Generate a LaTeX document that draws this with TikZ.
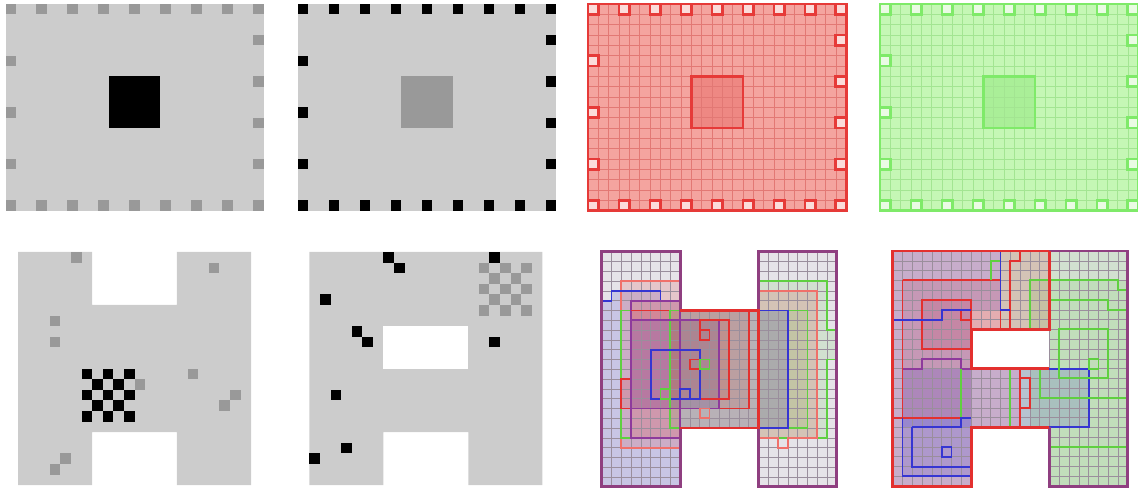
\documentclass[tikz,border=0pt]{standalone}
\usepackage{tikz}
\definecolor{lgray}{HTML}{CCCCCC}
\definecolor{mgray}{HTML}{999999}
\definecolor{redfill}{HTML}{F4A49F}
\definecolor{redgrid}{HTML}{E27874}
\definecolor{redline}{HTML}{E63A38}
\definecolor{redmark}{HTML}{FBDCDA}
\definecolor{redcore}{HTML}{EE8883}
\definecolor{grnfill}{HTML}{C5F7B5}
\definecolor{grngrid}{HTML}{A3E592}
\definecolor{grnline}{HTML}{7FEA69}
\definecolor{grnmark}{HTML}{EAFBE4}
\definecolor{grncore}{HTML}{AAEF98}
\definecolor{hbase}{HTML}{E6E3E8}
\definecolor{hgrid}{HTML}{9A8E9C}
\definecolor{hedge}{HTML}{8F3F80}
\definecolor{rc}{HTML}{E3302F}
\definecolor{gc}{HTML}{5FD040}
\definecolor{bc}{HTML}{3535D2}
\definecolor{sal}{HTML}{F0706A}
\definecolor{pc}{HTML}{8E3A9C}
\tikzset{
  cellA/.style={x=0.2066cm,y=-0.2066cm},
  cellB/.style={x=0.212cm,y=-0.212cm},
  cellC/.style={x=0.196cm,y=-0.196cm},
  rf/.style={fill=rc,fill opacity=0.16},
  gf/.style={fill=gc,fill opacity=0.14},
  bf/.style={fill=bc,fill opacity=0.17},
  rl/.style={draw=rc,line width=1.1pt},
  gl/.style={draw=gc,line width=1.1pt},
  bl/.style={draw=bc,line width=1.1pt},
  sl/.style={draw=sal,line width=1.1pt},
  pl/.style={draw=pc,line width=1.1pt},
  gridlines/.style={draw=hgrid,line width=0.3pt},
  edge/.style={draw=hedge,line width=1.6pt}
}
\newcommand{\Hshape}{(0,0)--(8,0)--(8,6)--(16,6)--(16,0)--(24,0)--(24,24)--(16,24)--(16,18)--(8,18)--(8,24)--(0,24)--cycle}
\newcommand{\Sshape}{(0,0)--(24,0)--(24,24)--(16,24)--(16,18)--(8,18)--(8,24)--(0,24)--cycle}
\begin{document}
\begin{tikzpicture}[x=0.02cm,y=-0.02cm]
\useasboundingbox (0,0) rectangle (1138,489);

% top row: layouts
\begin{scope}[shift={(5.5,4)}]
 \begin{scope}[cellA]
  \fill[lgray] (0,0) rectangle (25,20);
  \foreach \c in {0,3,...,24} {
    \fill[mgray] (\c,0) rectangle ++(1,1);
    \fill[mgray] (\c,19) rectangle ++(1,1);
  }
  \foreach \r in {5,10,15} \fill[mgray] (0,\r) rectangle ++(1,1);
  \foreach \r in {3,7,11,15} \fill[mgray] (24,\r) rectangle ++(1,1);
  \fill[black] (10,7) rectangle (15,12);
 \end{scope}
\end{scope}

\begin{scope}[shift={(297.7,4)}]
 \begin{scope}[cellA]
  \fill[lgray] (0,0) rectangle (25,20);
  \foreach \c in {0,3,...,24} {
    \fill[black] (\c,0) rectangle ++(1,1);
    \fill[black] (\c,19) rectangle ++(1,1);
  }
  \foreach \r in {5,10,15} \fill[black] (0,\r) rectangle ++(1,1);
  \foreach \r in {3,7,11,15} \fill[black] (24,\r) rectangle ++(1,1);
  \fill[mgray] (10,7) rectangle (15,12);
 \end{scope}
\end{scope}

\begin{scope}[shift={(588,4)}]
 \begin{scope}[cellA]
  \fill[redfill] (0,0) rectangle (25,20);
  \fill[redcore] (10,7) rectangle (15,12);
  \foreach \i in {1,...,24} \draw[redgrid,line width=0.3pt] (\i,0)--(\i,20);
  \foreach \j in {1,...,19} \draw[redgrid,line width=0.3pt] (0,\j)--(25,\j);
  \draw[redline,line width=1.6pt] (0,0) rectangle (25,20);
  \foreach \c in {0,3,...,24} {
    \filldraw[fill=redmark,draw=redline,line width=1.6pt] (\c,0) rectangle ++(1,1);
    \filldraw[fill=redmark,draw=redline,line width=1.6pt] (\c,19) rectangle ++(1,1);
  }
  \foreach \r in {5,10,15} \filldraw[fill=redmark,draw=redline,line width=1.6pt] (0,\r) rectangle ++(1,1);
  \foreach \r in {3,7,11,15} \filldraw[fill=redmark,draw=redline,line width=1.6pt] (24,\r) rectangle ++(1,1);
  \draw[redline,line width=1.6pt] (10,7) rectangle (15,12);
 \end{scope}
\end{scope}

\begin{scope}[shift={(880,4)}]
 \begin{scope}[cellA]
  \fill[grnfill] (0,0) rectangle (25,20);
  \fill[grncore] (10,7) rectangle (15,12);
  \foreach \i in {1,...,24} \draw[grngrid,line width=0.3pt] (\i,0)--(\i,20);
  \foreach \j in {1,...,19} \draw[grngrid,line width=0.3pt] (0,\j)--(25,\j);
  \draw[grnline,line width=1.6pt] (0,0) rectangle (25,20);
  \foreach \c in {0,3,...,24} {
    \filldraw[fill=grnmark,draw=grnline,line width=1.6pt] (\c,0) rectangle ++(1,1);
    \filldraw[fill=grnmark,draw=grnline,line width=1.6pt] (\c,19) rectangle ++(1,1);
  }
  \foreach \r in {5,10,15} \filldraw[fill=grnmark,draw=grnline,line width=1.6pt] (0,\r) rectangle ++(1,1);
  \foreach \r in {3,7,11,15} \filldraw[fill=grnmark,draw=grnline,line width=1.6pt] (24,\r) rectangle ++(1,1);
  \draw[grnline,line width=1.6pt] (10,7) rectangle (15,12);
 \end{scope}
\end{scope}

% bottom row: H layouts
\begin{scope}[shift={(18,252)}]
 \begin{scope}[cellB]
  \fill[lgray] (0,0)--(7,0)--(7,5)--(15,5)--(15,0)--(22,0)--(22,22)--(15,22)--(15,17)--(7,17)--(7,22)--(0,22)--cycle;
  \foreach \c/\r in {5/0,18/1,3/6,3/8,11/12,16/11,20/13,19/14,4/19,3/20}
    \fill[mgray] (\c,\r) rectangle ++(1,1);
  \foreach \c in {0,...,4} \foreach \r in {0,...,4} {
    \pgfmathtruncatemacro{\parity}{mod(\c+\r,2)}
    \ifnum\parity=0 \fill[black] (6+\c,11+\r) rectangle ++(1,1); \fi
  }
 \end{scope}
\end{scope}

\begin{scope}[shift={(309.3,252)}]
 \begin{scope}[cellB]
  \fill[lgray] (0,0)--(22,0)--(22,22)--(15,22)--(15,17)--(7,17)--(7,22)--(0,22)--cycle;
  \fill[white] (7,7) rectangle (15,11);
  \foreach \c/\r in {7/0,8/1,17/0,1/4,4/7,5/8,17/8,2/13,3/18,0/19}
    \fill[black] (\c,\r) rectangle ++(1,1);
  \foreach \c in {0,...,4} \foreach \r in {0,...,4} {
    \pgfmathtruncatemacro{\parity}{mod(\c+\r,2)}
    \ifnum\parity=0 \fill[mgray] (16+\c,1+\r) rectangle ++(1,1); \fi
  }
 \end{scope}
\end{scope}

\begin{scope}[shift={(601.7,251.7)}]
 \begin{scope}[cellC]
  \fill[hbase] \Hshape;
  \fill[bf] (0,5)--(1,5)--(1,4)--(6,4)--(6,5)--(8,5)--(8,24)--(0,24)--cycle;
  \fill[rf] (2,3) rectangle (8,20);
  \fill[rf] (3,5) rectangle (8,19);
  \fill[rf] (8,6) rectangle (16,18);
  \fill[bf] (8,6) rectangle (16,18);
  \fill[rf] (3,6)--(15,6)--(15,16)--(2,16)--(2,13)--(3,13)--cycle;
  \fill[bf] (3,7) rectangle (12,16);
  \fill[rf] (7,7) rectangle (13,15);
  \fill[gf] (7,6) rectangle (16,18);
  \fill[gf] (16,3)--(23,3)--(23,8)--(24,8)--(24,11)--(23,11)--(23,19)--(16,19)--cycle;
  \fill[rf] (16,4) rectangle (22,19);
  \fill[gf] (16,6) rectangle (21,18);
  \fill[bf] (16,6) rectangle (19,18);
  \begin{scope}
   \clip \Hshape;
   \foreach \i in {1,...,23} {
     \draw[gridlines] (\i,0)--(\i,24);
     \draw[gridlines] (0,\i)--(24,\i);
   }
  \end{scope}
  \draw[sl] (2,3) rectangle (8,20);
  \draw[gl] (2,6) rectangle (8,19);
  \draw[bl] (0,5)--(1,5)--(1,4)--(6,4)--(6,5);
  \draw[pl] (6,5)--(8,5);
  \draw[pl] (3,5) rectangle (8,19);
  \draw[rl] (3,6)--(15,6)--(15,16)--(2,16)--(2,13)--(3,13);
  \draw[gl] (7,6) rectangle (21,18);
  \draw[pl] (3,7) rectangle (12,16);
  \draw[rl] (7,15)--(13,15)--(13,7)--(10,7)--(10,9)--(11,9)--(11,8)--(10,8);
  \draw[bl] (5,10) rectangle (10,15);
  \draw[bl] (8,14) rectangle (9,15);
  \draw[gl] (6,14) rectangle (7,15);
  \draw[rl] (9,11) rectangle (10,12);
  \draw[gl] (10,11) rectangle (11,12);
  \draw[sl] (10,16) rectangle (11,17);
  \draw[gl] (16,3)--(23,3)--(23,8)--(24,8)--(24,11)--(23,11)--(23,19)--(16,19);
  \draw[sl] (16,4)--(22,4)--(22,19)--(19,19)--(19,20)--(18,20)--(18,19)--(16,19);
  \draw[bl] (16,6)--(19,6)--(19,18)--(16,18);
  \draw[edge] \Hshape;
  \draw[rc,line width=1.6pt] (8,6)--(16,6)--(16,18)--(8,18);
 \end{scope}
\end{scope}

\begin{scope}[shift={(892.7,251)}]
 \begin{scope}[cellC]
  \fill[hbase] \Sshape;
  \fill[gf] (11,0)--(24,0)--(24,24)--(16,24)--(16,18)--(13,18)--(13,12)--(16,12)--(16,8)--(11,8)--cycle;
  \fill[gf] (14,3) rectangle (24,24);
  \fill[rf] (0,0)--(16,0)--(16,8)--(8,8)--(8,12)--(13,12)--(13,18)--(8,18)--(8,24)--(0,24)--cycle;
  \fill[rf] (1,3)--(11,3)--(11,8)--(8,8)--(8,17)--(1,17)--cycle;
  \fill[rf] (3,5) rectangle (8,10);
  \fill[bf] (0,0)--(11,0)--(11,6)--(5,6)--(5,7)--(0,7)--cycle;
  \fill[bf] (0,7)--(5,7)--(5,6)--(8,6)--(8,24)--(0,24)--cycle;
  \fill[bf] (1,12) rectangle (13,18);
  \fill[bf] (1,17) rectangle (8,23);
  \fill[bf] (13,12) rectangle (20,18);
  \fill[white] (8,8) rectangle (16,12);
  \fill[white] (16,18) -- (16,24.1) -- (8,24.1) -- (8,18) -- cycle;
  \begin{scope}
   \clip \Sshape;
   \foreach \i in {1,...,23} {
     \draw[gridlines] (\i,0)--(\i,24);
     \draw[gridlines] (0,\i)--(24,\i);
   }
  \end{scope}
  \fill[white] (8.05,8.05) rectangle (15.95,11.95);
  \draw[rl] (1,3)--(11,3)--(11,8);
  \draw[rl] (1,3)--(1,17);
  \draw[rl] (0,17)--(8,17);
  \draw[rl] (3,5) rectangle (8,10);
  \draw[rl] (7,6) rectangle (8,7);
  \draw[rl] (13,0)--(13,1)--(12,1)--(12,8);
  \draw[bl] (11,0)--(11,6)--(12,6);
  \draw[gl] (11,1)--(10,1)--(10,3);
  \draw[bl] (0,7)--(5,7)--(5,6)--(8,6);
  \draw[pl] (1,12)--(3,12)--(3,11)--(7,11)--(7,12)--(13,12);
  \draw[gl] (7,12)--(7,17);
  \draw[gl] (12,12)--(12,18);
  \draw[bl] (1,17)--(1,23)--(8,23);
  \draw[bl] (2,18)--(7,18)--(7,17)--(8,17);
  \draw[bl] (2,18)--(2,22)--(8,22);
  \draw[bl] (5,20) rectangle (6,21);
  \draw[bl] (13,12) rectangle (20,18);
  \draw[rl] (13,13) rectangle (14,16);
  \draw[gl] (14,8)--(14,3)--(23,3)--(23,4)--(24,4);
  \draw[gl] (16,5)--(22,5)--(22,6)--(24,6);
  \draw[gl] (17,8) rectangle (22,13);
  \draw[gl] (20,11) rectangle (21,12);
  \draw[gl] (15,12)--(15,15)--(24,15);
  \draw[gl] (16,20)--(24,20);
  \draw[edge] (16,0)--(24,0)--(24,24)--(16,24)--(16,18);
  \draw[rc,line width=1.6pt] (16,0)--(0,0)--(0,24)--(8,24)--(8,18)--(16,18);
  \draw[rc,line width=1.6pt] (16,0)--(16,8)--(8,8)--(8,12)--(16,12);
  \draw[rc,line width=1.6pt] (13,12)--(13,18);
 \end{scope}
\end{scope}
\end{tikzpicture}
\end{document}
